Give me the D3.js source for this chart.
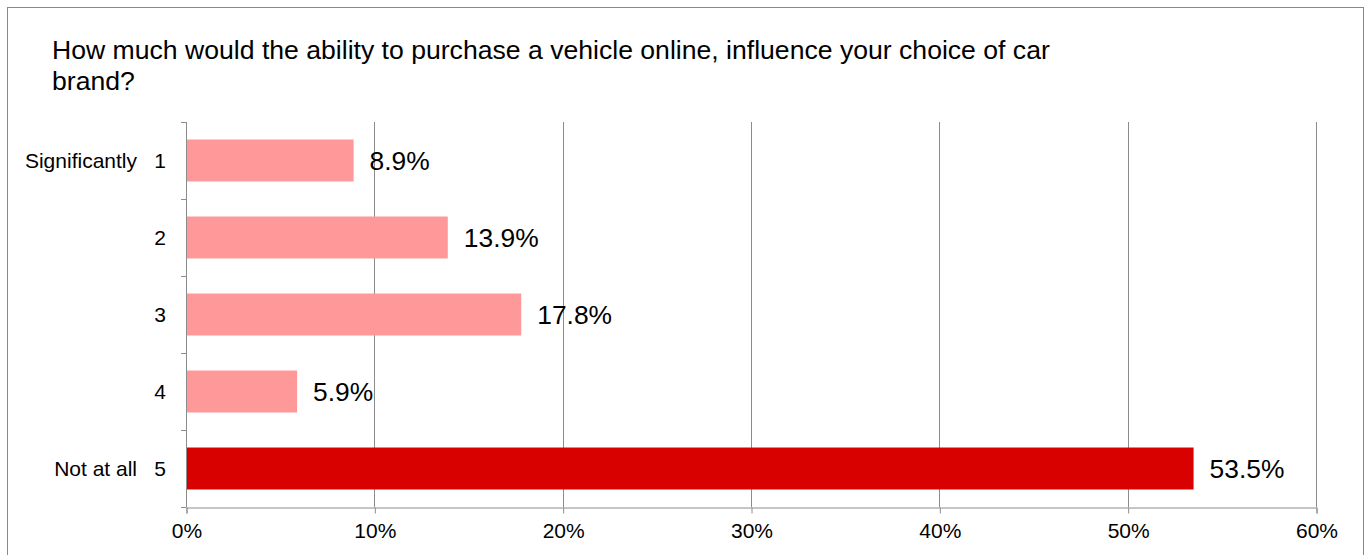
<!DOCTYPE html>
<html>
<head>
<meta charset="utf-8">
<script src="https://cdn.jsdelivr.net/npm/d3@7"></script>
<style>
  body { margin: 0; background: #fff; }
  svg { font-family: "Liberation Sans", Arial, sans-serif; }
</style>
</head>
<body>
<div id="chart"></div>
<script>
// Data
const categories = ["1", "2", "3", "4", "5"];
const sideLabels = ["Significantly", "", "", "", "Not at all"];
const values = [8.9, 13.9, 17.8, 5.9, 53.5];
const barColors = ["#ff9999", "#ff9999", "#ff9999", "#ff9999", "#d90000"];
const xTicks = [0, 10, 20, 30, 40, 50, 60];
const titleLines = [
    "How much would the ability to purchase a vehicle online, influence your choice of car",
    "brand?"
];

const W = 1372, H = 555;
const plot = { left: 186, right: 1316, top: 122, bottom: 507 };

const svg = d3.select("#chart")
    .append("svg")
    .attr("width", W)
    .attr("height", H);

// outer chart border
svg.append("rect")
    .attr("x", 7.5)
    .attr("y", 7.5)
    .attr("width", 1356)
    .attr("height", 560)
    .attr("fill", "none")
    .attr("stroke", "#888")
    .attr("stroke-width", 1);

// title
svg.append("text")
    .attr("x", 52)
    .attr("y", 59)
    .style("font-size", "26.6px")
    .attr("fill", "#000")
    .selectAll("tspan")
    .data(titleLines)
    .join("tspan")
    .attr("x", 52)
    .attr("dy", (d, i) => i === 0 ? 0 : 31)
    .text(d => d);

const xScale = d3.scaleLinear()
    .domain([0, 60])
    .range([plot.left, plot.right]);

const yScale = d3.scaleBand()
    .domain(categories)
    .range([plot.top, plot.bottom])
    .paddingInner(0.455)
    .paddingOuter(0.2275);

// gridlines
svg.append("g")
    .selectAll("line")
    .data(xTicks.slice(1))
    .join("line")
    .attr("x1", d => Math.round(xScale(d)) + 0.5)
    .attr("x2", d => Math.round(xScale(d)) + 0.5)
    .attr("y1", plot.top)
    .attr("y2", plot.bottom)
    .attr("stroke", "#8c8c8c")
    .attr("stroke-width", 1);

// x axis
const xAxis = svg.append("g")
    .attr("transform", `translate(0.5,${plot.bottom + 0.5})`)
    .call(d3.axisBottom(xScale)
        .tickValues(xTicks)
        .tickSize(6)
        .tickPadding(10)
        .tickFormat(d => d + "%"));
xAxis.selectAll(".domain").attr("stroke", "#8c8c8c");
xAxis.selectAll(".tick line").attr("stroke", "#8c8c8c");
xAxis.selectAll(".tick text")
    .style("font-size", "21px")
    .style("font-family", "Liberation Sans, Arial, sans-serif")
    .attr("fill", "#000");

// y axis with band boundary ticks
const yAxisG = svg.append("g");
yAxisG.append("line")
    .attr("x1", plot.left + 0.5)
    .attr("x2", plot.left + 0.5)
    .attr("y1", plot.top)
    .attr("y2", plot.bottom)
    .attr("stroke", "#8c8c8c");
const step = yScale.step();
const boundaries = d3.range(categories.length + 1).map(i => plot.top + i * step);
yAxisG.selectAll(".btick")
    .data(boundaries)
    .join("line")
    .attr("class", "btick")
    .attr("x1", plot.left - 5)
    .attr("x2", plot.left + 0.5)
    .attr("y1", d => Math.round(d) + 0.5)
    .attr("y2", d => Math.round(d) + 0.5)
    .attr("stroke", "#8c8c8c");

// category labels
svg.append("g")
    .selectAll("text")
    .data(categories)
    .join("text")
    .attr("x", 166)
    .attr("y", d => yScale(d) + yScale.bandwidth() / 2)
    .attr("dy", "0.35em")
    .attr("text-anchor", "end")
    .style("font-size", "21px")
    .text(d => d);

svg.append("g")
    .selectAll("text")
    .data(categories.filter((d, i) => sideLabels[i] !== ""))
    .join("text")
    .attr("x", 137)
    .attr("y", d => yScale(d) + yScale.bandwidth() / 2)
    .attr("dy", "0.35em")
    .attr("text-anchor", "end")
    .style("font-size", "21px")
    .text(d => sideLabels[categories.indexOf(d)]);

// bars
svg.append("g")
    .selectAll("rect")
    .data(values)
    .join("rect")
    .attr("x", xScale(0) + 1)
    .attr("y", (d, i) => yScale(categories[i]))
    .attr("width", d => xScale(d) - xScale(0) - 1)
    .attr("height", yScale.bandwidth())
    .attr("fill", (d, i) => barColors[i]);

// value labels
svg.append("g")
    .selectAll("text")
    .data(values)
    .join("text")
    .attr("x", d => xScale(d) + 16)
    .attr("y", (d, i) => yScale(categories[i]) + yScale.bandwidth() / 2)
    .attr("dy", "0.35em")
    .style("font-size", "26.4px")
    .text(d => d.toFixed(1) + "%");
</script>
</body>
</html>
